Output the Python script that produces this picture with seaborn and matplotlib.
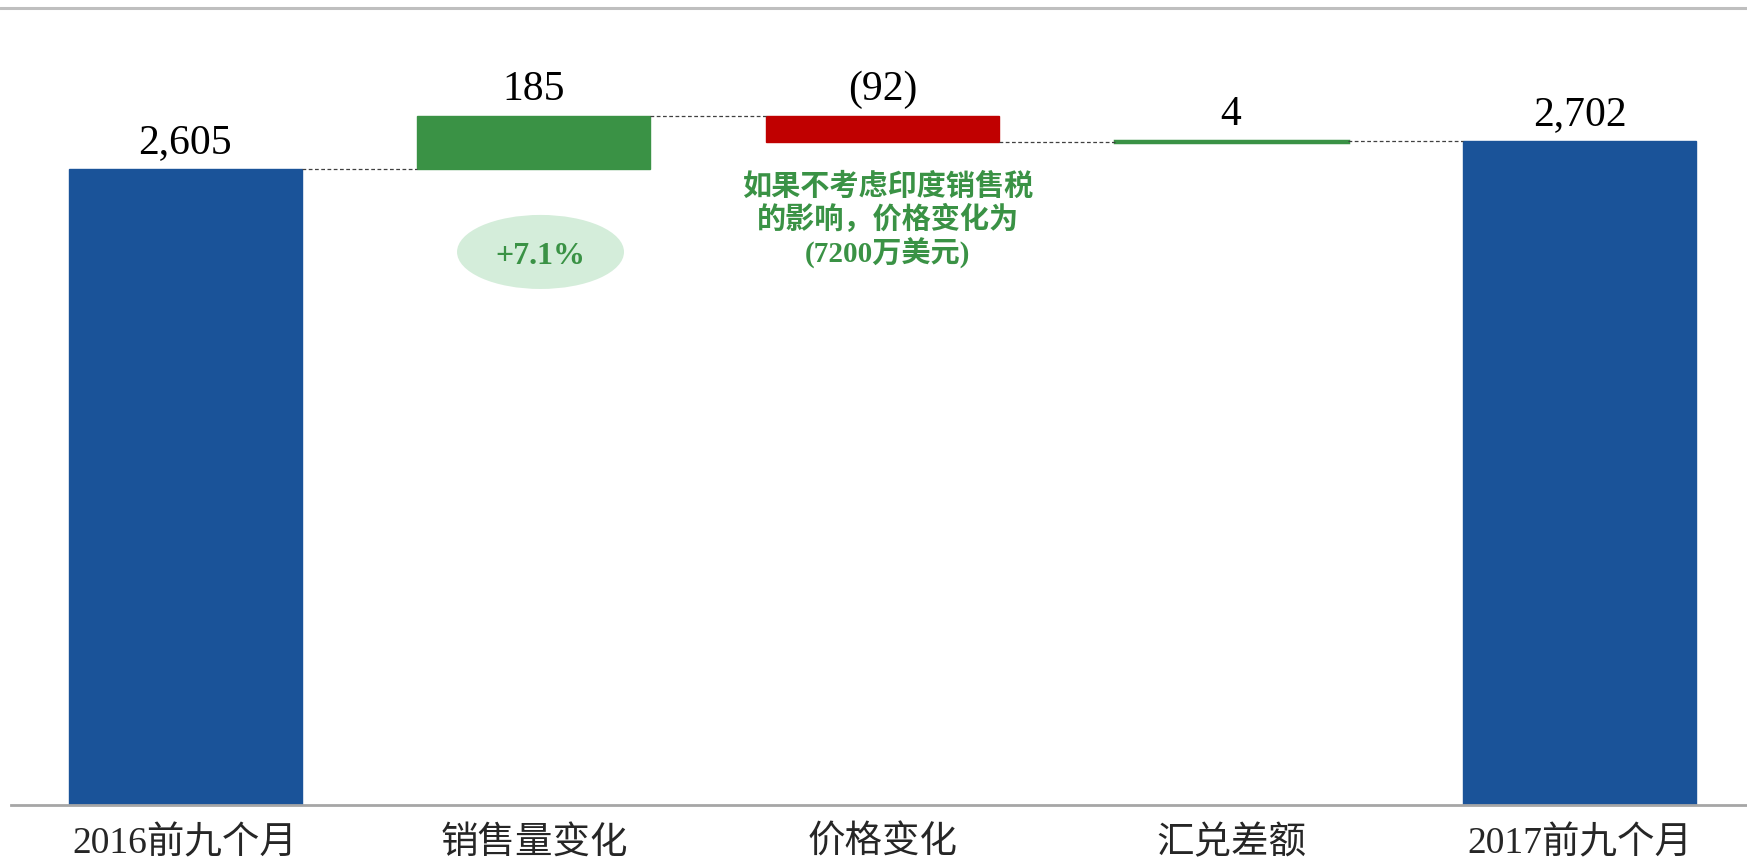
import numpy as np
import pandas as pd
import seaborn as sns
import matplotlib.pyplot as plt
from matplotlib.lines import Line2D
from matplotlib.patches import Ellipse

categories = ["2016前九个月", "销售量变化", "价格变化", "汇兑差额", "2017前九个月"]
start_total = 2605
changes = [185, -92, 4]
end_total = 2702

sns.set_style("white")
plt.rcParams["font.family"] = ["Liberation Serif", "Noto Sans CJK SC", "DejaVu Sans"]

# floating bars: base + height
levels = np.cumsum([start_total] + changes)          # running totals after each step
bases = [0] + [min(levels[i], levels[i + 1]) for i in range(len(changes))] + [0]
heights = [start_total] + [abs(c) for c in changes] + [end_total]
tops = [b + h for b, h in zip(bases, heights)]
df = pd.DataFrame({"cat": categories, "height": heights, "base": bases})

blue, green, red = "#1A5399", "#3A9245", "#C00000"
colors = [blue] + [green if c > 0 else red for c in changes] + [blue]

fig = plt.figure(figsize=(17.47, 8.63), dpi=100)
ax = fig.add_axes([11 / 1747, 58 / 863, 1 - 11 / 1747, 797 / 863])

width = 0.668
sns.barplot(data=df, x="cat", y="height", order=categories, bottom=df["base"].values,
            width=width, errorbar=None, color=blue, ax=ax)
for p, c in zip(ax.patches, colors):
    p.set_facecolor(c)
    p.set_edgecolor(c)
ax.patches[3].set_linewidth(2.5)

# connectors
for i, lv in enumerate(levels):
    ax.hlines(lv, i + width / 2, i + 1 - width / 2, colors="#404040",
              linewidth=0.9, linestyles=(0, (3, 2)))

# value labels
def fmt(v):
    return f"({abs(v):,})" if v < 0 else f"{v:,}"

labels = [fmt(start_total)] + [fmt(c) for c in changes] + [fmt(end_total)]
for i, (t, lab) in enumerate(zip(tops, labels)):
    ax.annotate(lab, (i, t), xytext=(0, 11.5), textcoords="offset points",
                ha="center", va="baseline", fontsize=30, color="black")

# callouts
ax.add_patch(Ellipse((1.019, 2316), 0.479, 258, facecolor="#D4EDDA",
                     edgecolor="none", zorder=3))
ax.text(1.019, 2300, "+7.1%", ha="center", va="center", fontsize=23,
        fontweight="bold", color=green, zorder=4)
ax.text(2.015, 2425, "如果不考虑印度销售税\n的影响，价格变化为\n(7200万美元)",
        ha="center", va="center", fontsize=21, fontweight="bold", color=green,
        linespacing=1.15)

ax.set_xlim(-0.5, 4.48)
ax.set_ylim(389, 3166)
ax.set_xlabel("")
ax.set_ylabel("")
ax.set_yticks([])
ax.tick_params(axis="x", length=0, pad=15, labelsize=27)
for s in ["top", "left", "right"]:
    ax.spines[s].set_visible(False)
ax.spines["bottom"].set_color("#A6A6A6")
ax.spines["bottom"].set_linewidth(2)

fig.add_artist(Line2D([0, 1], [1 - 8.5 / 863] * 2, color="#BFBFBF", linewidth=2.2))

plt.savefig("out.png", dpi=100)
